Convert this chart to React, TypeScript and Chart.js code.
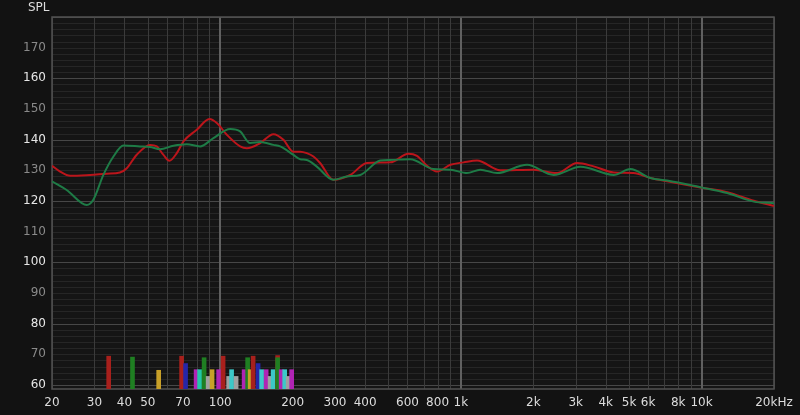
import React, { useEffect, useRef } from "react";
import { Chart, registerables } from "chart.js";

Chart.register(...registerables);

// ---- data ----
const redFreq = [20, 21.6, 23.8, 28.8, 33.8, 38.3, 40.9, 45, 51.1, 54.5, 58, 61.5, 66, 70.3, 79.9, 90.2, 96.8, 106.5, 121, 129, 146.6, 166.3, 183, 201, 215, 229, 244, 260, 295, 347, 407, 509, 606, 657, 723, 796, 904, 1026, 1167, 1458, 2003, 2509, 3039, 3561, 4315, 5209, 6131, 7193, 9894, 12777, 16490, 20000];
const redSPL = [131.5, 129.6, 128.2, 128.5, 128.9, 129.3, 130.7, 135.1, 138.3, 137.8, 135.1, 133.1, 135.6, 139.4, 143.2, 146.7, 145.4, 141.6, 137.8, 137.2, 138.9, 141.8, 140, 136.1, 136.1, 135.6, 134.5, 132.4, 126.9, 128.5, 132.4, 132.6, 135.4, 134.7, 131.5, 129.6, 131.8, 132.6, 133.2, 130, 130.2, 129.1, 132.4, 131.3, 129.3, 129.1, 127.5, 126.4, 124.4, 122.9, 120.1, 118.4];

const greenFreq = [20, 23, 27.9, 29.7, 32.7, 36, 39.6, 46.4, 51.1, 56.2, 63.9, 72.6, 82.5, 93.7, 110, 121, 133, 146.6, 166.3, 177.5, 201, 215, 229, 252, 295, 336, 382, 462, 509, 616, 770, 904, 1060, 1204, 1413, 1883, 2429, 3137, 4315, 5061, 6131, 7193, 9894, 12777, 16490, 20000];
const greenSPL = [126.4, 123.6, 118.7, 120.4, 128.5, 134.5, 138.1, 137.8, 137.6, 136.9, 138, 138.5, 137.8, 140.5, 143.5, 142.7, 138.9, 139.2, 138.3, 137.8, 135.1, 133.6, 133.4, 131.2, 126.9, 128, 128.5, 133.2, 133.4, 133.6, 130.4, 130.2, 129.1, 130.2, 129.1, 131.8, 128.5, 131.2, 128.5, 130.4, 127.5, 126.7, 124.5, 122.6, 119.8, 119.3];

const RED = "#a8201c";
const GRN = "#1f7f22";
const GLD = "#c8a028";
const BLU = "#2626a8";
const MAG = "#b024b4";
const TEA = "#22c8a8";
const CYA = "#3cc8c8";
const GRY = "#a0a0a0";

const barFreq = [34.4, 43.2, 55.5, 69.1, 71.8, 79.4, 82.1, 85.7, 89.1, 92.5, 98.5, 102.8, 108.4, 111.5, 116.4, 125.7, 130, 133.2, 137, 143.7, 148.6, 155.2, 161.2, 165.9, 173.2, 173.2, 179.2, 185.3, 191.6, 198.1];
const barTop = [69.4, 69.1, 64.8, 69.4, 67, 65, 65, 68.9, 62.8, 65, 65, 69.4, 62.8, 65, 62.8, 65, 68.9, 65, 69.4, 67, 65, 65, 62.8, 65, 69.6, 68.9, 65, 65, 62.8, 65];
const barColor = [RED, GRN, GLD, RED, BLU, MAG, TEA, GRN, GRY, GLD, MAG, RED, GRY, CYA, GRY, MAG, GRN, GLD, RED, BLU, CYA, MAG, GRY, CYA, RED, GRN, MAG, CYA, GRY, MAG];

const xTicks = [20, 30, 40, 50, 60, 70, 80, 90, 100, 200, 300, 400, 500, 600, 700, 800, 900, 1000, 2000, 3000, 4000, 5000, 6000, 7000, 8000, 9000, 10000, 20000];
const xMajor = [100, 1000, 10000];
const xLabels: Record<number, string> = {
  20: "20", 30: "30", 40: "40", 50: "50", 70: "70", 100: "100", 200: "200", 300: "300", 400: "400",
  600: "600", 800: "800", 1000: "1k", 2000: "2k", 3000: "3k", 4000: "4k", 5000: "5k", 6000: "6k",
  8000: "8k", 10000: "10k", 20000: "20kHz",
};
const yTicks: number[] = [];
for (let v = 60; v <= 180; v += 2) yTicks.push(v);
const yMin = 58.7;
const yMax = 180;

const FONT = { family: "'DejaVu Sans', sans-serif", size: 12 };

export default function App() {
  const ref = useRef<HTMLCanvasElement | null>(null);

  useEffect(() => {
    document.body.style.margin = "0";
    document.body.style.background = "#121212";
    const canvas = ref.current;
    if (!canvas) return;

    const framePlugin = {
      id: "frame",
      beforeDraw(chart: any) {
        const { ctx, chartArea: a } = chart;
        ctx.save();
        ctx.fillStyle = "#121212";
        ctx.fillRect(0, 0, chart.width, chart.height);
        ctx.fillStyle = "#151515";
        ctx.fillRect(a.left, a.top, a.right - a.left, a.bottom - a.top);
        ctx.restore();
      },
      beforeDatasetsDraw(chart: any) {
        const { ctx, chartArea: a } = chart;
        const xs = chart.scales.x;
        const ys = chart.scales.y;
        ctx.save();
        // horizontal grid
        for (const v of yTicks) {
          const py = Math.round(ys.getPixelForValue(v)) + 0.5;
          ctx.strokeStyle = v % 20 === 0 ? "#474747" : "#262626";
          ctx.lineWidth = 1;
          ctx.beginPath();
          ctx.moveTo(a.left, py);
          ctx.lineTo(a.right, py);
          ctx.stroke();
        }
        // vertical grid
        for (const v of xTicks) {
          const major = xMajor.includes(v);
          const px = xs.getPixelForValue(v);
          ctx.strokeStyle = major ? "#606060" : "#3b3b3b";
          ctx.lineWidth = major ? 2 : 1;
          const x = major ? Math.round(px) : Math.round(px) + 0.5;
          ctx.beginPath();
          ctx.moveTo(x, a.top);
          ctx.lineTo(x, a.bottom);
          ctx.stroke();
        }
        ctx.strokeStyle = "#525252";
        ctx.lineWidth = 1.5;
        ctx.strokeRect(a.left, a.top, a.right - a.left, a.bottom - a.top);
        ctx.restore();
      },
      afterDraw(chart: any) {
        const { ctx } = chart;
        ctx.save();
        ctx.fillStyle = "#dddddd";
        ctx.font = "12px 'DejaVu Sans', sans-serif";
        ctx.textBaseline = "middle";
        ctx.textAlign = "left";
        ctx.fillText("SPL", 28, 8);
        ctx.restore();
      },
    };

    const chart = new Chart(canvas, {
      type: "line",
      data: {
        datasets: [
          {
            type: "bar",
            data: barFreq.map((f, i) => ({ x: f, y: [yMin, barTop[i]] })) as any,
            backgroundColor: barColor,
            barThickness: 4,
            grouped: false,
            borderWidth: 0,
          } as any,
          {
            data: greenFreq.map((f, i) => ({ x: f, y: greenSPL[i] })),
            borderColor: "#1e7b46",
            borderWidth: 2,
            pointRadius: 0,
            cubicInterpolationMode: "monotone",
          },
          {
            data: redFreq.map((f, i) => ({ x: f, y: redSPL[i] })),
            borderColor: "#bb151b",
            borderWidth: 2,
            pointRadius: 0,
            cubicInterpolationMode: "monotone",
          },
        ],
      },
      options: {
        animation: false,
        responsive: false,
        devicePixelRatio: 1,
        layout: { padding: { top: 17, right: 26, left: 0, bottom: 0 } },
        plugins: { legend: { display: false }, tooltip: { enabled: false } },
        scales: {
          x: {
            type: "logarithmic",
            min: 20,
            max: 20000,
            offset: false,
            afterBuildTicks: (s: any) => {
              s.ticks = xTicks.map((v) => ({ value: v }));
            },
            afterFit: (s: any) => {
              s.height = 26;
            },
            ticks: {
              autoSkip: false,
              maxRotation: 0,
              padding: 7,
              color: "#dddddd",
              font: FONT,
              callback: (v: any) => xLabels[Number(v)] ?? "",
            },
            grid: { display: false, drawTicks: false },
            border: { display: false },
          },
          y: {
            type: "linear",
            min: yMin,
            max: yMax,
            afterBuildTicks: (s: any) => {
              s.ticks = yTicks.map((v) => ({ value: v }));
            },
            afterFit: (s: any) => {
              s.width = 52;
            },
            ticks: {
              autoSkip: false,
              padding: 6,
              font: FONT,
              color: (c: any) => (c.tick && c.tick.value % 20 === 0 ? "#e6e6e6" : "#8a8a8a"),
              callback: (v: any) => {
                const n = Number(v);
                return n % 10 === 0 && n < 180 ? String(n) : "";
              },
            },
            grid: { display: false, drawTicks: false },
            border: { display: false },
          },
        },
      } as any,
      plugins: [framePlugin],
    });

    return () => chart.destroy();
  }, []);

  return (
    <div style={{ width: 800, height: 415, background: "#121212" }}>
      <canvas ref={ref} width={800} height={415} style={{ display: "block", width: 800, height: 415 }} />
    </div>
  );
}
